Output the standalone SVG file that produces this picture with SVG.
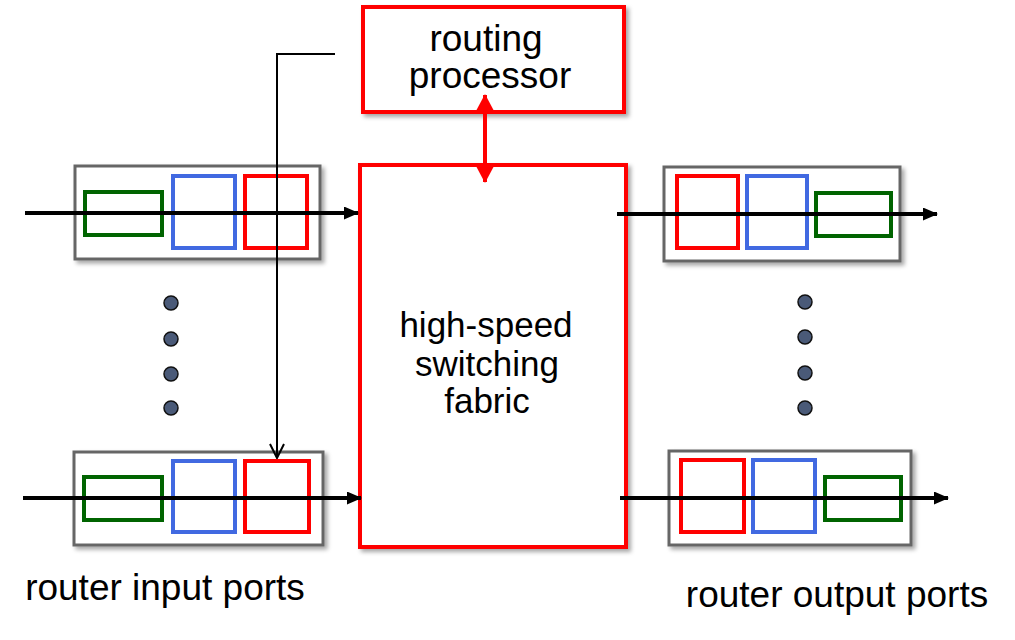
<svg xmlns="http://www.w3.org/2000/svg" width="1015" height="640" viewBox="0 0 1015 640">
<style>
.port{fill:#fff;stroke:#666;stroke-width:3;filter:url(#sh)}
.g{fill:none;stroke:#006400;stroke-width:4}
.b{fill:none;stroke:#4169e1;stroke-width:4}
.r{fill:none;stroke:#ff0000;stroke-width:4}
.big{fill:#fff;stroke:#ff0000;stroke-width:4;filter:url(#sh)}
.flow{stroke:#000;stroke-width:4;fill:none;marker-end:url(#ah)}
.dot{fill:#4a5a78;stroke:#111;stroke-width:1.5}
text{font-family:"Liberation Sans",Arial,sans-serif;fill:#000;text-anchor:middle}
</style>
<defs>
<filter id="sh" x="-10%" y="-10%" width="130%" height="130%">
<feDropShadow dx="3" dy="3" stdDeviation="2" flood-color="#000" flood-opacity="0.35"/>
</filter>
<marker id="ah" viewBox="0 0 15 13" refX="14" refY="6.5" markerWidth="15" markerHeight="13" markerUnits="userSpaceOnUse" orient="auto">
<path d="M0,0 L15,6.5 L0,13 Z" fill="#000"/>
</marker>
<marker id="rh" viewBox="0 0 17 18" refX="16" refY="9" markerWidth="17" markerHeight="18" markerUnits="userSpaceOnUse" orient="auto-start-reverse">
<path d="M0,0 L17,9 L0,18 Z" fill="#ff0000"/>
</marker>
<marker id="vh" viewBox="0 0 16 16" refX="15" refY="8" markerWidth="16" markerHeight="16" markerUnits="userSpaceOnUse" orient="auto">
<path d="M1,1 L15,8 L1,15" fill="none" stroke="#000" stroke-width="2"/>
</marker>
</defs>

<g id="routing-processor">
<rect class="big" x="363" y="7" width="261" height="105"/>
<text x="486" y="51" font-size="37">routing</text>
<text x="490" y="88" font-size="37">processor</text>
</g>

<g id="switching-fabric">
<rect class="big" x="360" y="165" width="266" height="382"/>
<text x="486" y="337" font-size="35">high-speed</text>
<text x="487" y="376" font-size="35">switching</text>
<text x="487" y="413" font-size="35">fabric</text>
</g>

<g id="input-port-1">
<rect class="port" x="75" y="166" width="245" height="93"/>
<rect class="g" x="85" y="192" width="77" height="43"/>
<rect class="b" x="173" y="176" width="62" height="72"/>
<rect class="r" x="245" y="176" width="62" height="72"/>
</g>

<g id="input-port-2">
<rect class="port" x="74" y="452" width="249" height="93"/>
<rect class="g" x="84" y="477" width="78" height="43"/>
<rect class="b" x="173" y="461" width="62" height="71"/>
<rect class="r" x="245" y="461" width="64" height="71"/>
</g>

<g id="output-port-1">
<rect class="port" x="664" y="167" width="236" height="94"/>
<rect class="r" x="677" y="176" width="61" height="72"/>
<rect class="b" x="747" y="176" width="60" height="72"/>
<rect class="g" x="816" y="193" width="75" height="43"/>
</g>

<g id="output-port-2">
<rect class="port" x="669" y="451" width="242" height="94"/>
<rect class="r" x="681" y="460" width="63" height="72"/>
<rect class="b" x="753" y="460" width="62" height="72"/>
<rect class="g" x="825" y="477" width="76" height="43"/>
</g>

<g id="input-dots">
<circle class="dot" cx="171" cy="303" r="7"/>
<circle class="dot" cx="171" cy="339" r="7"/>
<circle class="dot" cx="171" cy="374" r="7"/>
<circle class="dot" cx="171" cy="408" r="7"/>
</g>
<g id="output-dots">
<circle class="dot" cx="805" cy="302" r="7"/>
<circle class="dot" cx="805" cy="337" r="7"/>
<circle class="dot" cx="805" cy="373" r="7"/>
<circle class="dot" cx="805" cy="408" r="7"/>
</g>

<g id="connectors">
<line class="flow" x1="25" y1="213" x2="358" y2="213"/>
<line class="flow" x1="23" y1="498" x2="361" y2="498"/>
<line class="flow" x1="617" y1="214" x2="937" y2="214"/>
<line class="flow" x1="620" y1="498" x2="948" y2="498"/>
<line x1="485" y1="95" x2="485" y2="182" stroke="#ff0000" stroke-width="4" marker-start="url(#rh)" marker-end="url(#rh)"/>
<polyline points="335,54 277,54 277,458" fill="none" stroke="#000" stroke-width="2" marker-end="url(#vh)"/>
</g>

<g id="labels">
<text x="165" y="600" font-size="37">router input ports</text>
<text x="837" y="607" font-size="37">router output ports</text>
</g>
</svg>
